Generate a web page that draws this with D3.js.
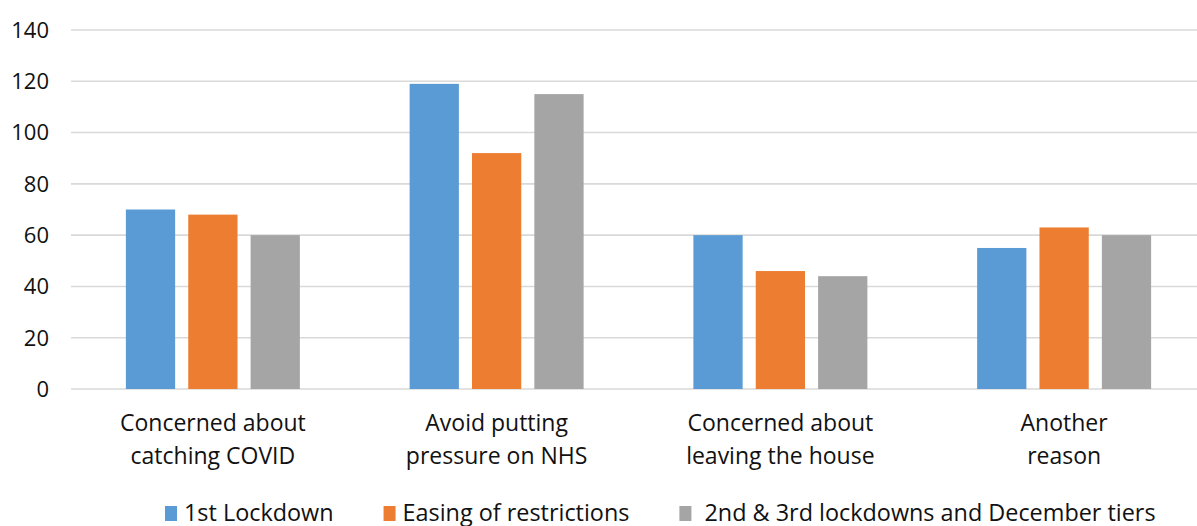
<!DOCTYPE html>
<html>
<head>
<meta charset="utf-8">
<script src="https://cdn.jsdelivr.net/npm/d3@7"></script>
<style>
  body { margin: 0; background: #fff; }
  text { font-family: "Open Sans", sans-serif; fill: #111; }
</style>
</head>
<body>
<div id="chart"></div>
<script>
const categories = [
  ["Concerned about", "catching COVID"],
  ["Avoid putting", "pressure on NHS"],
  ["Concerned about", "leaving the house"],
  ["Another", "reason"]
];
const seriesNames = ["1st Lockdown", "Easing of restrictions", " 2nd & 3rd lockdowns and December tiers"];
const lockdown1 = [70, 119, 60, 55];
const easing = [68, 92, 46, 63];
const lockdown23 = [60, 115, 44, 60];
const yTicks = [0, 20, 40, 60, 80, 100, 120, 140];
const colors = ["#5b9bd5", "#ed7d31", "#a5a5a5"];

const series = [lockdown1, easing, lockdown23];
const width = 1197, height = 526;
// plot area runs a little past the right edge, as in the original export
const margin = { left: 71, right: -9, top: 30, bottom: 137 };

const svg = d3.select("#chart").append("svg")
  .attr("width", width)
  .attr("height", height);

const y = d3.scaleLinear()
  .domain([0, 140])
  .range([height - margin.bottom, margin.top]);

const x0 = d3.scaleBand()
  .domain(d3.range(categories.length))
  .range([margin.left, width - margin.right])
  .paddingInner(0)
  .paddingOuter(0);

const x1 = d3.scaleBand()
  .domain(d3.range(series.length))
  .range([0, x0.bandwidth()])
  .paddingInner(0.21)
  .paddingOuter(0.88);

// gridlines
svg.append("g")
  .selectAll("line")
  .data(yTicks)
  .enter().append("line")
  .attr("x1", margin.left)
  .attr("x2", width - margin.right)
  .attr("y1", d => y(d))
  .attr("y2", d => y(d))
  .attr("stroke", "#d9d9d9")
  .attr("stroke-width", 1.6);

// y labels
svg.append("g")
  .selectAll("text")
  .data(yTicks)
  .enter().append("text")
  .attr("x", 49)
  .attr("y", d => y(d))
  .attr("dy", "0.36em")
  .attr("text-anchor", "end")
  .attr("font-size", "22px")
  .text(d => d);

// bars
const groups = svg.append("g")
  .selectAll("g")
  .data(categories)
  .enter().append("g")
  .attr("transform", (d, i) => `translate(${x0(i)},0)`);

groups.selectAll("rect")
  .data((d, i) => series.map((s, j) => ({ j, v: s[i] })))
  .enter().append("rect")
  .attr("x", d => x1(d.j))
  .attr("width", x1.bandwidth())
  .attr("y", d => y(d.v))
  .attr("height", d => y(0) - y(d.v))
  .attr("fill", d => colors[d.j]);

// category labels
groups.append("text")
  .attr("x", x0.bandwidth() / 2)
  .attr("y", 431)
  .attr("text-anchor", "middle")
  .attr("font-size", "23px")
  .selectAll("tspan")
  .data(d => d)
  .enter().append("tspan")
  .attr("x", x0.bandwidth() / 2)
  .attr("dy", (d, i) => i === 0 ? 0 : 33)
  .text(d => d);

// legend
const legend = svg.append("g");
let lx = 165;
seriesNames.forEach((name, i) => {
  legend.append("rect")
    .attr("x", lx)
    .attr("y", 506)
    .attr("width", 12)
    .attr("height", 15)
    .attr("fill", colors[i]);
  const t = legend.append("text")
    .attr("x", lx + 19)
    .attr("y", 521)
    .attr("font-size", "23.4px")
    .style("white-space", "pre")
    .text(name);
  lx += 19 + t.node().getComputedTextLength() + 50;
});
</script>
</body>
</html>
